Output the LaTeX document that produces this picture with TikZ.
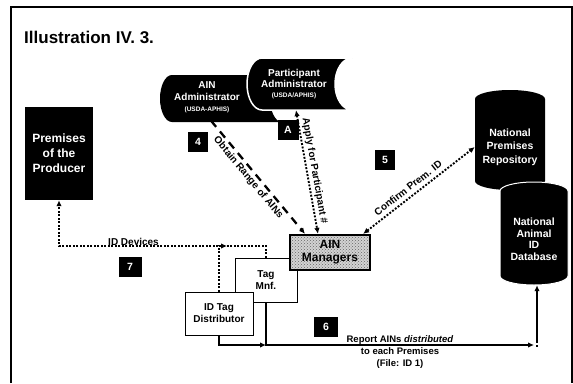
\documentclass[tikz,border=0pt]{standalone}
\usepackage{fontspec}
\setmainfont{Liberation Sans}
\usetikzlibrary{arrows.meta,patterns}
\begin{document}
\begin{tikzpicture}[x=1pt,y=-1pt,
  lbl/.style={font=\fontsize{10}{11}\selectfont\bfseries,inner sep=1pt},
  numbox/.style={fill=black,text=white,font=\fontsize{10.5}{10.5}\selectfont\bfseries,minimum width=20pt,minimum height=20pt,inner sep=0pt},
  whitebox/.style={draw=black,fill=white,line width=1pt,align=center,font=\fontsize{10}{12}\selectfont\bfseries,inner sep=0pt},
  darktext/.style={text=white,align=center,inner sep=0pt},
  dotline/.style={line width=1.9pt,dash pattern=on 1.9pt off 1.6pt},
  dashline/.style={line width=2.3pt,dash pattern=on 8pt off 6pt},
  solidline/.style={line width=1.3pt},
  arr/.style={-{Latex[length=6pt,width=5.5pt]}},
  biarr/.style={{Latex[length=6pt,width=5.5pt]}-{Latex[length=6pt,width=5.5pt]}}
]
\useasboundingbox (0,0) rectangle (573,383);
\fill[white] (0,0) rectangle (573,383);
% frame
\draw[line width=2.6pt] (11,383) -- (11,7) -- (573,7);
\draw[line width=1.2pt] (572,7) -- (572,383);

% title
\node[font=\fontsize{17}{17}\selectfont\bfseries,anchor=base west,inner sep=0pt] (title) at (24,43) {Illustration IV. 3.};

% AIN Administrator (stored data shape)
\fill[black] (172,75) -- (282,75) arc[start angle=270,end angle=90,x radius=12,y radius=23.5]
  -- (172,122) arc[start angle=90,end angle=270,x radius=12,y radius=23.5] -- cycle;
\node[darktext,font=\fontsize{10}{12.5}\selectfont\bfseries,minimum height=47pt] (ainadm) at (207,97)
  {AIN\\Administrator\\[-2pt]{\fontsize{6.5}{7}\selectfont (USDA-APHIS)}};

% Participant Administrator
\path[fill=black,draw=white,line width=1.5pt] (262,58) -- (352,58) arc[start angle=270,end angle=90,x radius=17,y radius=26]
  -- (262,110) arc[start angle=90,end angle=270,x radius=15,y radius=26] -- cycle;
\node[darktext,font=\fontsize{10}{11.5}\selectfont\bfseries,minimum height=52pt] (pa) at (294,84)
  {Participant\\Administrator\\[-2pt]{\fontsize{6.5}{7}\selectfont (USDA/APHIS)}};

% Premises of the Producer
\node[fill=black,text=white,minimum width=68pt,minimum height=93pt,align=center,inner sep=0pt,
  font=\fontsize{12}{15}\selectfont\bfseries] (prem) at (59,153.5) {Premises\\of the\\Producer};

% National Premises Repository
\fill[black] (475,99) arc[start angle=180,end angle=360,x radius=35,y radius=9]
  -- (545,181) arc[start angle=0,end angle=180,x radius=35,y radius=9] -- cycle;
\node[darktext,font=\fontsize{10.5}{13.5}\selectfont\bfseries,minimum width=70pt] (npr) at (510,147)
  {National\\Premises\\Repository};

% National Animal ID Database
\path[fill=black,draw=white,line width=1pt] (500,191) arc[start angle=180,end angle=360,x radius=34,y radius=9]
  -- (568,276) arc[start angle=0,end angle=180,x radius=34,y radius=9] -- cycle;
\node[darktext,font=\fontsize{10.5}{11.5}\selectfont\bfseries,minimum width=68pt,minimum height=92pt] (nadb) at (534,239)
  {National\\Animal\\ID\\Database};

% boxes
\node[whitebox,minimum width=62pt,minimum height=44pt] (tag) at (266,280) {Tag\\Mnf.};
\node[draw=black,line width=2.2pt,minimum width=80pt,minimum height=35pt,inner sep=0pt,align=center,
  preaction={fill=gray!35},pattern=crosshatch dots,pattern color=black!60,
  font=\fontsize{12}{13}\selectfont\bfseries] (aim) at (330,252.5) {AIN\\Managers};
\node[whitebox,minimum width=68pt,minimum height=43pt] (dist) at (219,313.5) {ID Tag\\Distributor};

% number boxes
\node[numbox] (n4) at (198,142) {4};
\node[numbox,minimum width=21pt] (nA) at (288,130) {A};
\node[numbox] (n5) at (385,160) {5};
\node[numbox,minimum width=23pt] (n7) at (130,267) {7};
\node[numbox,minimum width=24pt] (n6) at (326,327) {6};

% connectors
\draw[dashline,arr] ([xshift=4pt]ainadm.south) -- node[pos=0.46,sloped,below=1pt,lbl] {Obtain Range of AINs} ([xshift=-25pt]aim.north);
\draw[dotline,biarr] ([xshift=2pt]pa.south) -- node[pos=0.5,sloped,above=1pt,lbl] {Apply for Participant \#} ([xshift=-12pt]aim.north);
\draw[dotline,biarr] ([xshift=-8pt]aim.north east) -- node[pos=0.45,sloped,above=3pt,lbl] {Confirm Prem. ID} (npr.west);

\coordinate (dv) at (59,246);
\draw[dotline,arr] (tag.north) |- (dv) node[pos=0.82,above=-2pt,lbl] {ID Devices} -- (prem.south);
\draw[dotline,arr] (dist.north) |- ([xshift=8pt]dist.north |- dv);

\coordinate (rl) at (266,345);
\coordinate (rr) at (537,345);
\draw[solidline,arr] (tag.south) -- (rl) -- ([xshift=-3pt]rr);
\draw[solidline] (rr) -- ++(0,2);
\draw[solidline,arr] ([yshift=2pt]rr) -- (rr |- nadb.south);
\draw[solidline,arr] (dist.south) |- (rl);

\node[font=\fontsize{9.5}{12}\selectfont\bfseries,align=center,inner sep=0pt] (rep) at (400,352)
  {Report AINs \textit{distributed}\\to each Premises\\(File: ID 1)};
\end{tikzpicture}
\end{document}
